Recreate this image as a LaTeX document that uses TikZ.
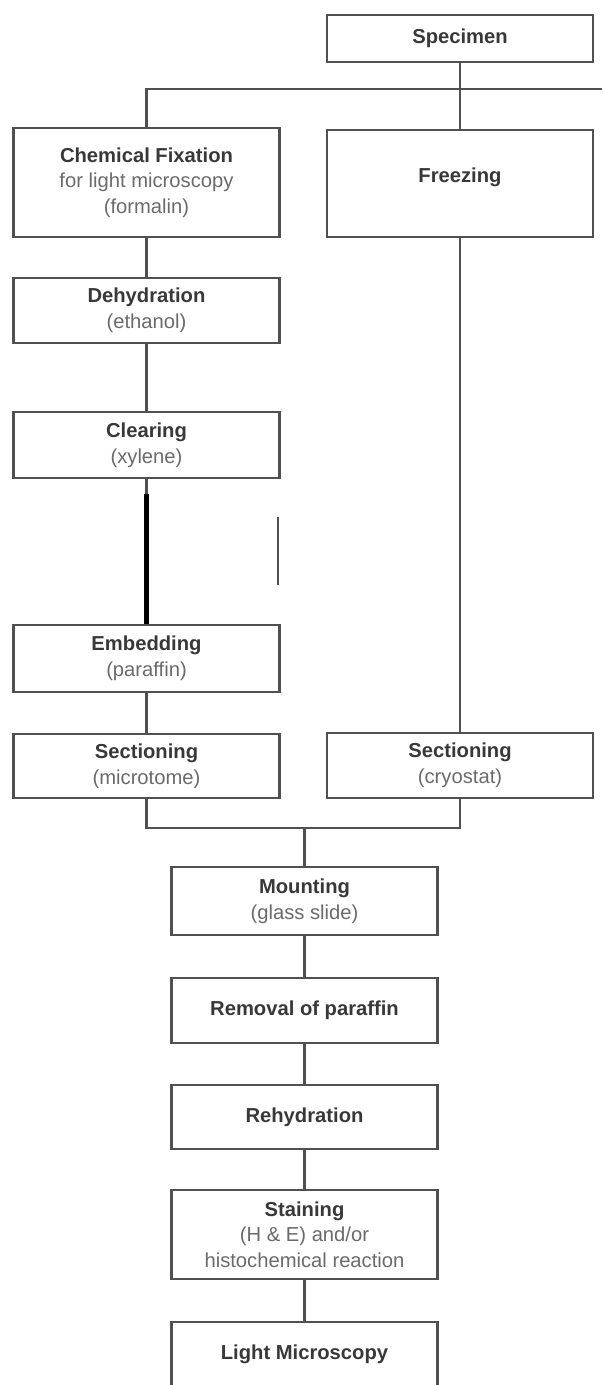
\documentclass[tikz,border=0pt]{standalone}
\usepackage{fontspec}
\setmainfont{Liberation Sans}
\usepackage{xcolor}
\usetikzlibrary{positioning}
\definecolor{lineg}{HTML}{505050}
\definecolor{titleg}{HTML}{383838}
\definecolor{subg}{HTML}{6A6A6A}

\begin{document}
\begin{tikzpicture}[x=0.02cm,y=-0.02cm,
	every path/.style={color=lineg,line width=1.4pt},
	procbox/.style={draw=lineg,rectangle,line width=1.2pt,minimum width=5.32cm,align=center,
		font=\fontsize{11.5}{14.6}\selectfont,text=subg,inner sep=0pt}]
		\useasboundingbox (0,0) rectangle (602,1385);
		
		% draw specimen and the two branches
		\node (spec) at (460,38.5) [procbox,minimum height=0.94cm] {\textcolor{titleg}{\textbf{Specimen}}};
		\node (fix) at (146.5,182.5) [procbox,minimum height=2.18cm] {\textcolor{titleg}{\textbf{Chemical Fixation}}\\for light microscopy\\(formalin)};
		\node (freeze) at (460,183.5) [procbox,minimum height=2.14cm] {\raisebox{0.32cm}{\textcolor{titleg}{\textbf{Freezing}}}};
		
		% draw paraffin branch
		\node (dehyd) at (146.5,310.5) [procbox,minimum height=1.3cm] {\textcolor{titleg}{\textbf{Dehydration}}\\(ethanol)};
		\node (clear) at (146.5,445) [procbox,minimum height=1.32cm] {\textcolor{titleg}{\textbf{Clearing}}\\(xylene)};
		\node (embed) at (146.5,658.5) [procbox,minimum height=1.34cm] {\textcolor{titleg}{\textbf{Embedding}}\\(paraffin)};
		\node (secmic) at (146.5,766) [procbox,minimum height=1.28cm] {\textcolor{titleg}{\textbf{Sectioning}}\\(microtome)};
		
		% draw frozen branch
		\node (seccryo) at (460,765.5) [procbox,minimum height=1.3cm] {\textcolor{titleg}{\textbf{Sectioning}}\\(cryostat)};
		
		% draw common steps
		\node (mount) at (304.5,901) [procbox,minimum height=1.36cm] {\textcolor{titleg}{\textbf{Mounting}}\\(glass slide)};
		\node (remov) at (304.5,1010.5) [procbox,minimum height=1.3cm] {\textcolor{titleg}{\textbf{Removal of paraffin}}};
		\node (rehyd) at (304.5,1117) [procbox,minimum height=1.28cm] {\textcolor{titleg}{\textbf{Rehydration}}};
		\node (stain) at (304.5,1234.5) [procbox,minimum height=1.78cm] {\textcolor{titleg}{\textbf{Staining}}\\(H \& E) and/or\\histochemical reaction};
		\node (light) at (304.5,1354.5) [procbox,minimum height=1.3cm] {\textcolor{titleg}{\textbf{Light Microscopy}}};
		
		% draw split line under specimen
		\coordinate (rightend) at (602,89);
		\draw (spec.south) to (freeze.north);
		\draw (fix.north) |- (rightend);
		
		% draw lines down the paraffin branch
		\draw (fix.south) to (dehyd.north);
		\draw (dehyd.south) to (clear.north);
		\draw (clear.south) to (embed.north);
		\draw[color=black,line width=2.4pt] (clear.south) ++(0,15) to (embed.north);
		\draw[line width=0.6pt] (278,517) to (278,585);
		\draw (embed.south) to (secmic.north);
		
		% draw line down the frozen branch
		\draw (freeze.south) to (seccryo.north);
		
		% join both branches
		\coordinate (join) at (304.5,828);
		\draw (secmic.south) |- (join) -| (seccryo.south);
		\draw (join) to (mount.north);
		
		% draw lines between common steps
		\draw (mount.south) to (remov.north);
		\draw (remov.south) to (rehyd.north);
		\draw (rehyd.south) to (stain.north);
		\draw (stain.south) to (light.north);
	\end{tikzpicture}
\end{document}
